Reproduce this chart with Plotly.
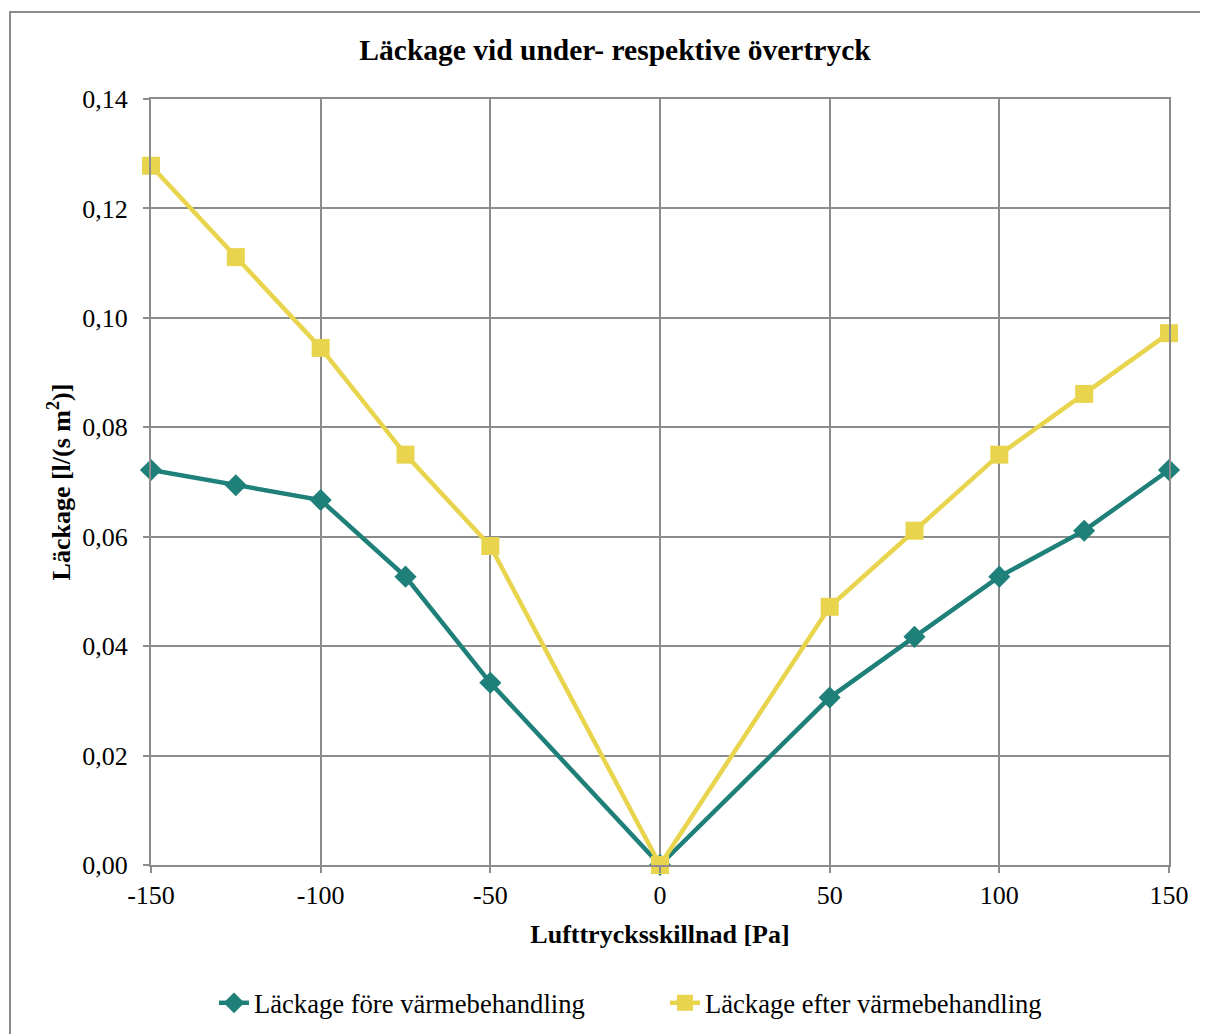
import plotly.graph_objects as go

x_vals = [-150, -125, -100, -75, -50, 0, 50, 75, 100, 125, 150]
fore = [0.0722, 0.0694, 0.0667, 0.0527, 0.0333, 0.0, 0.0306, 0.0417, 0.0527, 0.0611, 0.0722]
efter = [0.1278, 0.1111, 0.0945, 0.0750, 0.0583, 0.0, 0.0472, 0.0611, 0.0750, 0.0861, 0.0972]
x_ticks = [-150, -100, -50, 0, 50, 100, 150]
x_labels = ["-150", "-100", "-50", "0", "50", "100", "150"]
y_ticks = [0, 0.02, 0.04, 0.06, 0.08, 0.10, 0.12, 0.14]
y_labels = ["0,00", "0,02", "0,04", "0,06", "0,08", "0,10", "0,12", "0,14"]

FONT = "Liberation Serif"
GREEN = "#1F8079"
YELLOW = "#E8D44D"
GRID = "#8C8C8C"

fig = go.Figure()
fig.add_trace(go.Scatter(x=x_vals, y=fore, mode="lines+markers",
                         name="Läckage före värmebehandling", cliponaxis=False,
                         line=dict(color=GREEN, width=4.5),
                         marker=dict(symbol="diamond", size=17, color=GREEN)))
fig.add_trace(go.Scatter(x=x_vals, y=efter, mode="lines+markers",
                         name="Läckage efter värmebehandling", cliponaxis=False,
                         line=dict(color=YELLOW, width=4.5),
                         marker=dict(symbol="square", size=18, color=YELLOW)))

# page body has 8px margin; figure drawn 8px in from the window
W, H = 1200, 1026
L, T, R, B = 143, 91, 39, 169
PW, PH = W - L - R, H - T - B
bottom = T + PH

fig.update_layout(
    width=W, height=H,
    margin=dict(l=L, r=R, t=T, b=B, autoexpand=False),
    paper_bgcolor="white", plot_bgcolor="white",
    font=dict(family=FONT, size=26, color="black"),
    title=dict(text="<b>Läckage vid under- respektive övertryck</b>",
               x=(615 - 8) / W, xanchor="center", y=1 - 42 / H, yanchor="middle",
               font=dict(family=FONT, size=29.5, color="black")),
    xaxis=dict(range=[-150, 150], tickmode="array", tickvals=x_ticks, ticktext=x_labels,
               showgrid=True, gridcolor=GRID, gridwidth=2,
               showline=True, linecolor=GRID, linewidth=2, mirror=True,
               ticks="outside", ticklen=6, tickcolor=GRID, tickwidth=2,
               zeroline=False, tickfont=dict(family=FONT, size=26),
               title=dict(text="<b>Lufttrycksskillnad [Pa]</b>", standoff=16,
                          font=dict(family=FONT, size=26))),
    yaxis=dict(range=[0, 0.14], tickmode="array", tickvals=y_ticks, ticktext=y_labels,
               showgrid=True, gridcolor=GRID, gridwidth=2,
               showline=True, linecolor=GRID, linewidth=2, mirror=True,
               ticks="outside", ticklen=6, tickcolor=GRID, tickwidth=2,
               ticklabelstandoff=10,
               zeroline=False, tickfont=dict(family=FONT, size=26),
               title=dict(text="<b>Läckage [l/(s m<sup>2</sup>)]</b>", standoff=4,
                          font=dict(family=FONT, size=26))),
    legend=dict(orientation="h", xref="container", yref="container",
                x=(214 - 8) / W, xanchor="left",
                y=(H - 1003 + 8) / H, yanchor="middle",
                entrywidth=406, entrywidthmode="pixels",
                font=dict(family=FONT, size=26.6), tracegroupgap=0,
                bgcolor="rgba(0,0,0,0)"),
    showlegend=True,
)

fig.add_shape(type="rect", xref="paper", yref="paper",
              x0=(2 - L) / PW, x1=1.2, y0=-0.5, y1=(bottom - 4) / PH,
              line=dict(color=GRID, width=2), layer="below")

fig.write_html("out.html")
